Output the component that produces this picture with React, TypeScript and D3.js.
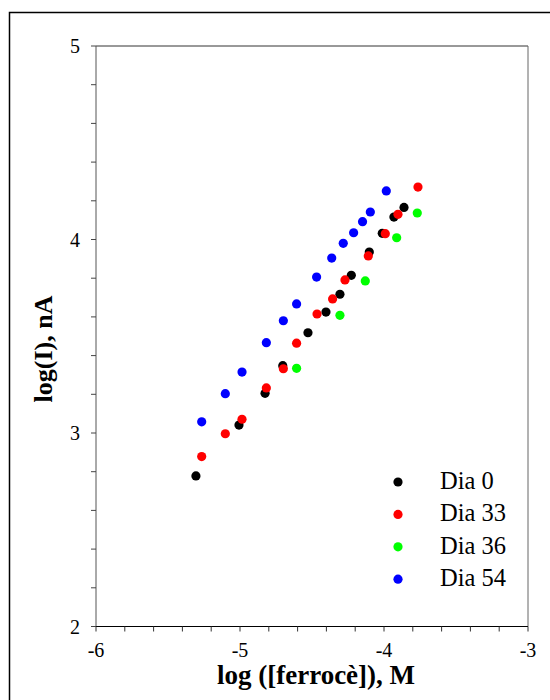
import React from "react";
import * as d3 from "d3";

const seriesNames = ["Dia 0", "Dia 33", "Dia 36", "Dia 54"];
const seriesColors = ["#000000", "#ff0000", "#00ff00", "#0000ff"];

const dia0X = [-5.306, -5.007, -4.826, -4.703, -4.528, -4.403, -4.306, -4.227, -4.102, -4.012, -3.931, -3.861];
const dia0Y = [2.778, 3.041, 3.205, 3.348, 3.518, 3.625, 3.717, 3.815, 3.935, 4.032, 4.116, 4.166];

const dia33X = [-5.266, -5.102, -4.986, -4.817, -4.699, -4.607, -4.465, -4.357, -4.271, -4.109, -3.991, -3.903, -3.764];
const dia33Y = [2.878, 2.996, 3.071, 3.233, 3.332, 3.464, 3.615, 3.693, 3.791, 3.915, 4.030, 4.130, 4.271];

const dia36X = [-4.607, -4.306, -4.130, -3.912, -3.769];
const dia36Y = [3.334, 3.608, 3.786, 4.009, 4.137];

const dia54X = [-5.266, -5.102, -4.986, -4.817, -4.699, -4.607, -4.468, -4.363, -4.283, -4.211, -4.149, -4.095, -3.984];
const dia54Y = [3.058, 3.203, 3.315, 3.467, 3.580, 3.667, 3.806, 3.904, 3.980, 4.035, 4.092, 4.142, 4.251];

const xTicks = [-6, -5, -4, -3];
const yTicks = [2, 3, 4, 5];
const xTitle = "log ([ferrocè]), M";
const yTitle = "log(I), nA";

const seriesX = [dia0X, dia33X, dia36X, dia54X];
const seriesY = [dia0Y, dia33Y, dia36Y, dia54Y];

const FONT = "Liberation Serif, Times New Roman, serif";

export default function App() {
  const left = 96, right = 528, top = 46, bottom = 626.5;
  const x = d3.scaleLinear().domain([-6, -3]).range([left, right]);
  const y = d3.scaleLinear().domain([2, 5]).range([bottom, top]);
  const xMinor = d3.range(-6, -3 + 1e-9, 0.2);
  const yMinor = d3.range(2, 5 + 1e-9, 0.2);
  const legendX = 398;
  const legendY0 = 482;
  const legendStep = 32.4;

  return (
    <svg
      width={550}
      height={700}
      style={{ position: "absolute", left: 0, top: 0, display: "block", background: "#fff", fontFamily: FONT }}
    >
      <rect x={9.5} y={12.5} width={600} height={750} fill="#fff" stroke="#000" strokeWidth={1.5} />
      {/* plot frame */}
      <line x1={left} x2={right} y1={top} y2={top} stroke="#333" strokeWidth={1} />
      <line x1={right} x2={right} y1={top} y2={bottom} stroke="#666" strokeWidth={1} />
      <line x1={left} x2={left} y1={top} y2={bottom} stroke="#555" strokeWidth={1} />
      <line x1={left} x2={right} y1={bottom} y2={bottom} stroke="#000" strokeWidth={1} />
      {/* ticks */}
      {yMinor.map((v, i) => (
        <line key={"yt" + i} x1={left - 5} x2={left} y1={y(v)} y2={y(v)} stroke="#444" strokeWidth={1} />
      ))}
      {xMinor.map((v, i) => (
        <line key={"xt" + i} x1={x(v)} x2={x(v)} y1={bottom} y2={bottom + 5} stroke="#333" strokeWidth={1} />
      ))}
      {yTicks.map((v) => (
        <text key={"yl" + v} x={80} y={y(v) + 7} textAnchor="end" fontFamily={FONT} fontSize={20}>
          {v}
        </text>
      ))}
      {xTicks.map((v) => (
        <text key={"xl" + v} x={x(v)} y={657} textAnchor="middle" fontFamily={FONT} fontSize={20}>
          {v}
        </text>
      ))}
      <text
        x={(left + right) / 2 + 4}
        y={684}
        textAnchor="middle"
        fontFamily={FONT}
        fontSize={27}
        fontWeight="bold"
      >
        {xTitle}
      </text>
      <text
        transform={`translate(52, ${349}) rotate(-90)`}
        textAnchor="middle"
        fontFamily={FONT}
        fontSize={26}
        fontWeight="bold"
      >
        {yTitle}
      </text>
      {/* points */}
      {seriesNames.map((name, si) => (
        <g key={name}>
          {seriesX[si].map((xv, i) => (
            <circle key={i} cx={x(xv)} cy={y(seriesY[si][i])} r={4.6} fill={seriesColors[si]} />
          ))}
        </g>
      ))}
      {/* legend */}
      {seriesNames.map((name, si) => (
        <g key={"lg" + name}>
          <circle cx={legendX} cy={legendY0 + si * legendStep} r={4.6} fill={seriesColors[si]} />
          <text x={440} y={legendY0 + si * legendStep + 7} fontFamily={FONT} fontSize={24.5}>
            {name}
          </text>
        </g>
      ))}
    </svg>
  );
}
